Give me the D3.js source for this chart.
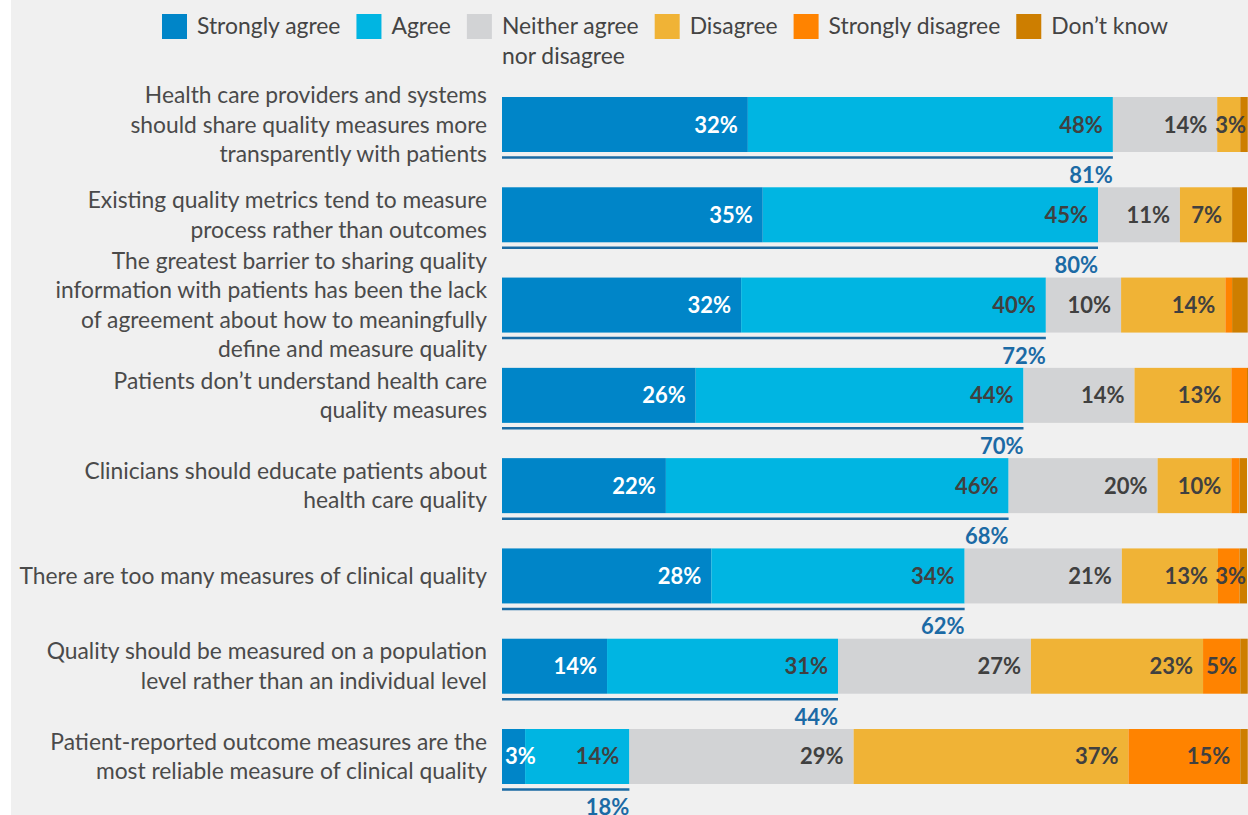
<!DOCTYPE html>
<html>
<head>
<meta charset="utf-8">
<script src="https://cdn.jsdelivr.net/npm/d3@7"></script>
<style>
  body { margin: 0; background: #fff; }
  svg { display: block; font-family: Lato, sans-serif; }
</style>
</head>
<body>
<svg id="chart"></svg>
<script>
// statements, each split into the lines shown on the left
const categories = [
    ["Health care providers and systems", "should share quality measures more", "transparently with patients"],
    ["Existing quality metrics tend to measure", "process rather than outcomes"],
    ["The greatest barrier to sharing quality", "information with patients has been the lack", "of agreement about how to meaningfully", "define and measure quality"],
    ["Patients don\u2019t understand health care", "quality measures"],
    ["Clinicians should educate patients about", "health care quality"],
    ["There are too many measures of clinical quality"],
    ["Quality should be measured on a population", "level rather than an individual level"],
    ["Patient-reported outcome measures are the", "most reliable measure of clinical quality"]
];

const seriesNames = ["Strongly agree", "Agree", "Neither agree\nnor disagree", "Disagree", "Strongly disagree", "Don\u2019t know"];
const seriesColors = ["#0085c8", "#00b5e2", "#d2d3d5", "#f0b336", "#ff8300", "#cd7e00"];

// bar widths (%)
const stronglyAgree    = [33.0, 35.0, 32.1, 26.0, 22.0, 28.1, 14.1, 3.1];
const agree            = [49.0, 45.0, 40.9, 44.0, 46.0, 34.0, 31.0, 14.0];
const neither          = [14.0, 11.0, 10.1, 14.9, 20.0, 21.1, 25.9, 30.1];
const disagree         = [3.1, 7.0, 14.0, 13.0, 9.9, 12.9, 23.1, 36.9];
const stronglyDisagree = [0, 0, 0.9, 2.1, 1.1, 2.9, 5.0, 15.0];
const dontKnow         = [1.0, 2.0, 2.1, 1.0, 1.0, 1.0, 1.0, 1.0];

// printed labels
const stronglyAgreeLabels    = [32, 35, 32, 26, 22, 28, 14, 3];
const agreeLabels            = [48, 45, 40, 44, 46, 34, 31, 14];
const neitherLabels          = [14, 11, 10, 14, 20, 21, 27, 29];
const disagreeLabels         = [3, 7, 14, 13, 10, 13, 23, 37];
const stronglyDisagreeLabels = [null, null, null, null, null, 3, 5, 15];
const dontKnowLabels         = [null, null, null, null, null, null, null, null];
const netAgree               = [81, 80, 72, 70, 68, 62, 44, 18];

const W = 1248, H = 815;
const svg = d3.select("#chart").attr("width", W).attr("height", H);

svg.append("rect").attr("x", 11).attr("y", 0).attr("width", W - 11).attr("height", H).attr("fill", "#f0f0f0");

const allValues = [stronglyAgree, agree, neither, disagree, stronglyDisagree, dontKnow];
const allLabels = [stronglyAgreeLabels, agreeLabels, neitherLabels, disagreeLabels, stronglyDisagreeLabels, dontKnowLabels];

const rows = categories.map((c, i) => {
    let x0 = 0;
    const segs = allValues.map((arr, s) => {
        const seg = { s: s, x0: x0, x1: x0 + arr[i], label: allLabels[s][i] };
        x0 += arr[i];
        return seg;
    });
    return { idx: i, lines: c, segs: segs, net: netAgree[i], agreeEnd: segs[1].x1 };
});

const x = d3.scaleLinear().domain([0, 100]).range([502, 1247]);
const y = d3.scaleBand().domain(d3.range(categories.length)).range([97, 784]).paddingInner(0.3908).paddingOuter(0);

const rowG = svg.selectAll(".row").data(rows).enter().append("g").attr("class", "row");

rowG.selectAll("rect.seg")
    .data(d => d.segs.filter(s => s.x1 > s.x0).map(s => Object.assign({ row: d.idx }, s)))
    .enter().append("rect")
    .attr("class", "seg")
    .attr("x", s => x(s.x0))
    .attr("y", s => y(s.row))
    .attr("width", s => x(s.x1) - x(s.x0))
    .attr("height", y.bandwidth())
    .attr("fill", s => seriesColors[s.s]);

// segment labels
rowG.selectAll("text.val")
    .data(d => d.segs.filter(s => s.label != null).map(s => Object.assign({ row: d.idx }, s)))
    .enter().append("text")
    .attr("class", "val")
    .attr("y", s => y(s.row) + y.bandwidth() / 2 + 8)
    .attr("font-size", 22)
    .attr("font-weight", 700)
    .attr("fill", s => s.s === 0 ? "#ffffff" : "#404040")
    .text(s => s.label + "%")
    .each(function (s) {
        const tw = this.getComputedTextLength();
        const a = x(s.x0), b = x(s.x1);
        let left;
        if (b - a >= tw + 20) {
            left = b - 10 - tw;
        } else {
            left = (a + b) / 2 - tw / 2;
            left = Math.max(left, a + 3);
            left = Math.min(left, W - 2 - tw);
        }
        d3.select(this).attr("x", left);
    });

// net agree underline and value
rowG.append("line")
    .attr("x1", x(0))
    .attr("x2", d => x(d.agreeEnd))
    .attr("y1", d => y(d.idx) + y.bandwidth() + 5.5)
    .attr("y2", d => y(d.idx) + y.bandwidth() + 5.5)
    .attr("stroke", "#1b6aa3")
    .attr("stroke-width", 2.5);

rowG.append("text")
    .attr("x", d => x(d.agreeEnd))
    .attr("y", d => y(d.idx) + y.bandwidth() + 31)
    .attr("text-anchor", "end")
    .attr("font-size", 22)
    .attr("font-weight", 700)
    .attr("fill", "#1b6aa5")
    .text(d => d.net + "%");

// category labels
const lineH = 29.5;
rowG.append("text")
    .attr("text-anchor", "end")
    .attr("font-size", 22.8)
    .attr("fill", "#4a4a4a")
    .each(function (d) {
        const t = d3.select(this);
        const mid = y(d.idx) + y.bandwidth() / 2 + 8;
        d.lines.forEach((ln, k) => {
            t.append("tspan")
                .attr("x", 487)
                .attr("y", mid + (k - (d.lines.length - 1) / 2) * lineH)
                .text(ln);
        });
    });

// legend
const legend = svg.append("g").attr("font-size", 22.9).attr("fill", "#444");
let lx = 162;
seriesNames.forEach((name, i) => {
    legend.append("rect").attr("x", lx).attr("y", 14).attr("width", 25).attr("height", 25).attr("fill", seriesColors[i]);
    const t = legend.append("text").attr("x", lx + 35).attr("y", 34);
    name.split("\n").forEach((ln, k) => {
        t.append("tspan").attr("x", lx + 35).attr("y", 34 + k * 30).text(ln);
    });
    const tw = d3.max(t.selectAll("tspan").nodes(), n => n.getComputedTextLength());
    lx += 35 + tw + 16;
});
</script>
</body>
</html>
